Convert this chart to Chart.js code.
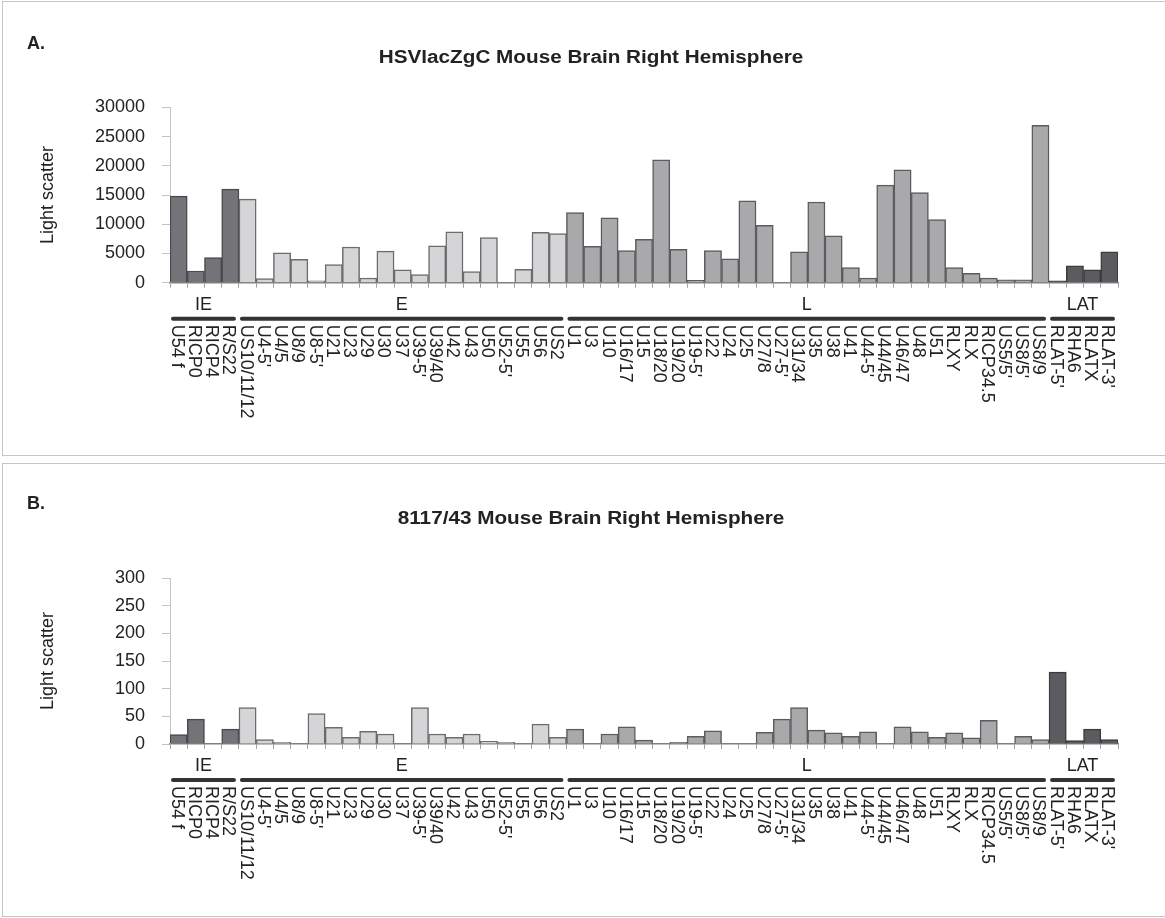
<!DOCTYPE html>
<html>
<head>
<meta charset="utf-8">
<title>HSV light scatter</title>
<script src="https://cdn.jsdelivr.net/npm/chart.js@4.4.1/dist/chart.umd.min.js"></script>
<style>
  body { margin: 0; background: #fff; width: 1165px; height: 918px; overflow: hidden; position: relative; }
  canvas { position: absolute; left: 0; }
  #chart-a { top: 0; }
  #chart-b { top: 460px; }
  .frame { position: absolute; left: 2px; width: 1200px; border: 1px solid #c6c6c6; pointer-events: none; }
  #frame-a { top: 1px; height: 453px; }
  #frame-b { top: 463px; height: 452px; }
</style>
</head>
<body>
<canvas id="chart-a" width="1165" height="458"></canvas>
<canvas id="chart-b" width="1165" height="458"></canvas>
<div class="frame" id="frame-a"></div>
<div class="frame" id="frame-b"></div>
<script>
const FONT = "'Liberation Sans', Arial, sans-serif";

const categories = [
  'U54 f', 'RICP0', 'RICP4', 'R/S22',
  'US10/11/12', "U4-5'", 'U4/5', 'U8/9', "U8-5'", 'U21', 'U23', 'U29', 'U30', 'U37',
  "U39-5'", 'U39/40', 'U42', 'U43', 'U50', "U52-5'", 'U55', 'U56', 'US2',
  'U1', 'U3', 'U10', 'U16/17', 'U15', 'U18/20', 'U19/20', "U19-5'", 'U22', 'U24', 'U25',
  'U27/8', "U27-5'", 'U31/34', 'U35', 'U38', 'U41', "U44-5'", 'U44/45', 'U46/47', 'U48',
  'U51', 'RLXY', 'RLX', 'RICP34.5', "US5/5'", "US8/5'", 'US8/9',
  "RLAT-5'", 'RHA6', 'RLATX', "RLAT-3'"
];

// kinetic class of each gene: first and last category index
const groupNames = ['IE', 'E', 'L', 'LAT'];
const groupFirst = [0, 4, 23, 51];
const groupLast = [3, 22, 50, 54];
const groupFill = ['#747478', '#d5d5d7', '#a9a9ac', '#5c5c60'];
const groupBorder = ['#4a4a4e', '#6c6c6e', '#5c5c5e', '#3c3c3e'];

const hsvLacZValues = [
  14800, 2000, 4300, 16000,
  14300, 700, 5100, 4000, 300, 3100, 6100, 800, 5400, 2200,
  1400, 6300, 8700, 1900, 7700, 0, 2300, 8600, 8400,
  12000, 6200, 11100, 5500, 7400, 21000, 5700, 400, 5500, 4100, 14000,
  9800, 0, 5300, 13800, 8000, 2600, 800, 16700, 19300, 15400,
  10800, 2600, 1600, 800, 500, 500, 26900,
  300, 2900, 2200, 5300
];

const strain8117Values = [
  17, 45, 0, 27,
  66, 8, 3, 0, 55, 30, 12, 23, 18, 0,
  66, 18, 12, 18, 5, 3, 0, 36, 12,
  27, 0, 18, 31, 7, 0, 3, 14, 24, 0, 0,
  21, 45, 66, 25, 20, 14, 22, 0, 31, 22,
  12, 20, 11, 43, 0, 14, 8,
  130, 6, 27, 8
];

const ticksA = [0, 5000, 10000, 15000, 20000, 25000, 30000];
const ticksB = [0, 50, 100, 150, 200, 250, 300];

function groupOf(index) {
  return groupFirst.findIndex((first, g) => index >= first && index <= groupLast[g]);
}

const barFills = categories.map((_, i) => groupFill[groupOf(i)]);
const barBorders = categories.map((_, i) => groupBorder[groupOf(i)]);

// panel letter, title, class brackets and the top-to-bottom gene names
const geneAxisPlugin = {
  id: 'geneAxis',
  afterDraw(chart, args, opts) {
    const { ctx, chartArea, scales } = chart;
    const x = scales.x;
    const half = (x.getPixelForValue(1) - x.getPixelForValue(0)) / 2;
    const base = chartArea.bottom;

    ctx.save();
    ctx.fillStyle = '#222';
    ctx.font = `bold 18px ${FONT}`;
    ctx.textAlign = 'left';
    ctx.textBaseline = 'alphabetic';
    ctx.fillText(opts.letter, 27, 49);

    // the source figure is a little wide, so the title is stretched to match
    ctx.save();
    ctx.translate(591, opts.titleY);
    ctx.scale(1.15, 1);
    ctx.textAlign = 'center';
    ctx.textBaseline = 'middle';
    ctx.font = `bold 18px ${FONT}`;
    ctx.fillText(opts.title, 0, 0);
    ctx.restore();

    ctx.font = `18px ${FONT}`;
    ctx.textAlign = 'center';
    ctx.textBaseline = 'middle';
    ctx.strokeStyle = '#333';
    ctx.lineWidth = 4;
    ctx.lineCap = 'round';
    groupNames.forEach((name, g) => {
      const start = x.getPixelForValue(groupFirst[g]) - half + 3;
      const end = x.getPixelForValue(groupLast[g]) + half - 5;
      ctx.fillText(name, (start + end) / 2, base + 22);
      ctx.beginPath();
      ctx.moveTo(start, base + 36);
      ctx.lineTo(end, base + 36);
      ctx.stroke();
    });

    ctx.textAlign = 'left';
    categories.forEach((label, i) => {
      ctx.save();
      ctx.translate(x.getPixelForValue(i) - 2, base + 42);
      ctx.rotate(Math.PI / 2);
      ctx.fillText(label, 0, 0);
      ctx.restore();
    });
    ctx.restore();
  },
};

function makeChart(canvasId, values, title, yTicks, letter, top, titleY, axisHeight) {
  return new Chart(document.getElementById(canvasId), {
    type: 'bar',
    data: {
      labels: categories,
      datasets: [{
        data: values,
        backgroundColor: barFills,
        borderColor: barBorders,
        borderWidth: 1.5,
        barPercentage: 1,
        categoryPercentage: 1,
      }],
    },
    options: {
      responsive: false,
      animation: false,
      layout: { padding: { left: 0, right: 47, top, bottom: 0 } },
      scales: {
        x: {
          ticks: { display: false },
          grid: { drawOnChartArea: false, drawTicks: true, tickLength: 5, color: '#a0a0a0', offset: true },
          border: { color: '#808080', width: 1.5 },
          afterFit(scale) { scale.height = axisHeight; },
        },
        y: {
          min: yTicks[0],
          max: yTicks[yTicks.length - 1],
          afterBuildTicks(scale) { scale.ticks = yTicks.map((value) => ({ value })); },
          ticks: {
            font: { size: 18, family: FONT },
            color: '#222',
            padding: 17,
            callback: (value) => String(value),
          },
          grid: { drawOnChartArea: false, drawTicks: true, tickLength: 8, color: '#c4c4c4' },
          border: { color: '#c4c4c4' },
          title: {
            display: true,
            text: 'Light scatter',
            font: { size: 18, family: FONT },
            color: '#222',
            padding: { top: 37, bottom: 0 },
          },
          afterFit(scale) { scale.width = 170; },
        },
      },
      plugins: {
        legend: { display: false },
        tooltip: { enabled: false },
        title: { display: false },
        geneAxis: { letter, title, titleY },
      },
    },
    plugins: [geneAxisPlugin],
  });
}

makeChart('chart-a', hsvLacZValues, 'HSVlacZgC Mouse Brain Right Hemisphere', ticksA, 'A.',
  107.3, 58, 175.3);
makeChart('chart-b', strain8117Values, '8117/43 Mouse Brain Right Hemisphere', ticksB, 'B.',
  118, 59, 174);
</script>
</body>
</html>
